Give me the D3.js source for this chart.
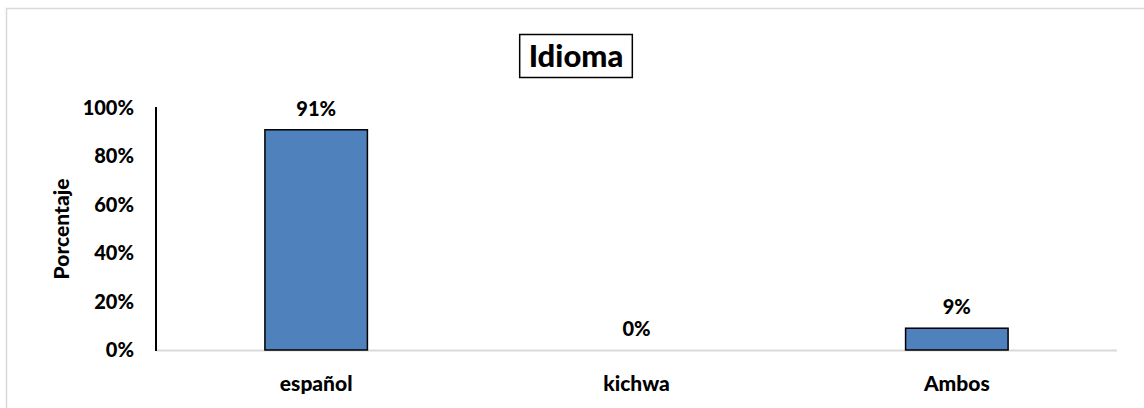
<!DOCTYPE html>
<html>
<head>
<meta charset="utf-8">
<script src="https://cdn.jsdelivr.net/npm/d3@7"></script>
<style>
  body { margin: 0; background: #fff; }
  text { font-family: Lato, "Open Sans", sans-serif; font-weight: 900; fill: #000; }
</style>
</head>
<body>
<svg width="1144" height="408"></svg>
<script>
let categories = ['español', 'kichwa', 'Ambos'];
let values = [0.91, 0.00, 0.09];
let labels = ['91%', '0%', '9%'];
let yTicks = [0, 0.2, 0.4, 0.6, 0.8, 1.0];

let svg = d3.select('svg');

// outer frame (runs off right and bottom)
svg.append('rect')
    .attr('x', 6.5).attr('y', 8.5)
    .attr('width', 1150).attr('height', 410)
    .attr('fill', 'none')
    .attr('stroke', '#d9d9d9')
    .attr('stroke-width', 1.5);

let plotLeft = 156, plotRight = 1117, plotTop = 108, plotBottom = 350;

let x = d3.scaleBand().domain(categories).range([plotLeft, plotRight]).paddingInner(0.68).paddingOuter(0.34);
let y = d3.scaleLinear().domain([0, 1]).range([plotBottom, plotTop]);

// title with box
let title = svg.append('text')
    .attr('x', 576).attr('y', 67)
    .attr('text-anchor', 'middle')
    .style('font-size', '31px')
    .text('Idioma');
let bb = title.node().getBBox();
svg.insert('rect', 'text')
    .attr('x', bb.x - 9).attr('y', 34.5)
    .attr('width', bb.width + 18).attr('height', 43)
    .attr('fill', 'none')
    .attr('stroke', '#000')
    .attr('stroke-width', 1.5);

// x axis line
svg.append('line')
    .attr('x1', plotLeft).attr('x2', plotRight)
    .attr('y1', plotBottom + 0.5).attr('y2', plotBottom + 0.5)
    .attr('stroke', '#d9d9d9').attr('stroke-width', 2);

// bars
svg.selectAll('.bar')
    .data(values)
    .enter()
    .append('rect')
    .attr('class', 'bar')
    .attr('x', (d, i) => x(categories[i]))
    .attr('width', x.bandwidth())
    .attr('y', d => y(d))
    .attr('height', d => plotBottom - y(d))
    .attr('fill', d => d > 0 ? '#4f81bd' : 'none')
    .attr('stroke', d => d > 0 ? '#000' : 'none')
    .attr('stroke-width', 1.5);

// y axis
let yAxis = svg.append('g')
    .attr('transform', 'translate(' + plotLeft + ',0)')
    .call(d3.axisLeft(y).tickValues(yTicks).tickFormat(d3.format('.0%')).tickSize(0).tickPadding(22));
yAxis.select('.domain').attr('stroke', '#000').attr('stroke-width', 2).attr('d', 'M0,' + (plotTop - 1) + 'V' + (plotBottom + 1));
yAxis.selectAll('text').style('font-size', '20px').style('font-family', 'Lato, sans-serif').style('font-weight', '900');

// category labels
svg.selectAll('.cat')
    .data(categories)
    .enter()
    .append('text')
    .attr('x', d => x(d) + x.bandwidth() / 2)
    .attr('y', 391)
    .attr('text-anchor', 'middle')
    .style('font-size', '21px')
    .text(d => d);

// data labels
svg.selectAll('.lbl')
    .data(values)
    .enter()
    .append('text')
    .attr('x', (d, i) => x(categories[i]) + x.bandwidth() / 2)
    .attr('y', d => y(d) - 14)
    .attr('text-anchor', 'middle')
    .style('font-size', '20px')
    .text((d, i) => labels[i]);

// axis title
svg.append('text')
    .attr('transform', 'translate(69,229) rotate(-90)')
    .attr('text-anchor', 'middle')
    .style('font-size', '21px')
    .text('Porcentaje');
</script>
</body>
</html>
